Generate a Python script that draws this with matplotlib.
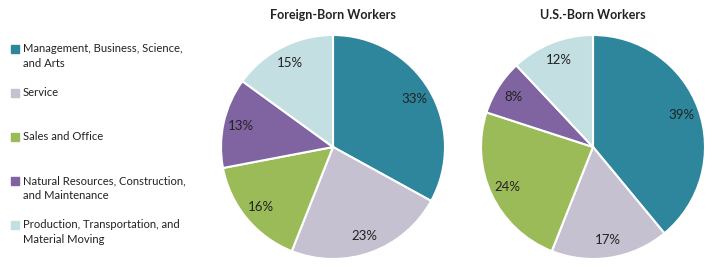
import matplotlib.pyplot as plt
from matplotlib.patches import Rectangle

plt.rcParams['font.family'] = ['Lato', 'DejaVu Sans']

categories = ['Management, Business, Science,\nand Arts', 'Service', 'Sales and Office',
              'Natural Resources, Construction,\nand Maintenance',
              'Production, Transportation, and\nMaterial Moving']
foreign = [33, 23, 16, 13, 15]
us_born = [39, 17, 24, 8, 12]
titles = ['Foreign-Born Workers', 'U.S.-Born Workers']
colors = ['#2E869C', '#C5C1D1', '#9BBB59', '#8064A2', '#C4DFE1']

W, H = 720, 273
fig = plt.figure(figsize=(W / 100, H / 100), dpi=100)

# pie axes placed by pixel centre
R = 112
for cx, vals, title in [(333, foreign, titles[0]), (593, us_born, titles[1])]:
    ax = fig.add_axes([(cx - R) / W, (H - 147 - R) / H, 2 * R / W, 2 * R / H])
    ax.pie(vals, colors=colors, startangle=90, counterclock=False,
           autopct='%d%%', pctdistance=0.84,
           wedgeprops=dict(edgecolor='white', linewidth=1.5),
           textprops=dict(fontsize=9.5, color='#222222'))
    ax.set_xlim(-1, 1)
    ax.set_ylim(-1, 1)
    ax.set_aspect('equal')
    fig.text(cx / W, 1 - 15 / H, title, ha='center', va='center',
             fontsize=9, fontweight='bold', color='#222222')

# legend on the left
ys = [49, 93, 137, 181, 225]
for y, lab, c in zip(ys, categories, colors):
    fig.patches.append(Rectangle((11 / W, 1 - (y + 4) / H), 8 / W, 8 / H,
                                 transform=fig.transFigure, color=c))
    fig.text(23 / W, 1 - (y - 6) / H, lab, ha='left', va='top', fontsize=8.1,
             color='#222222', linespacing=1.45)

fig.savefig('out.png', dpi=100)
